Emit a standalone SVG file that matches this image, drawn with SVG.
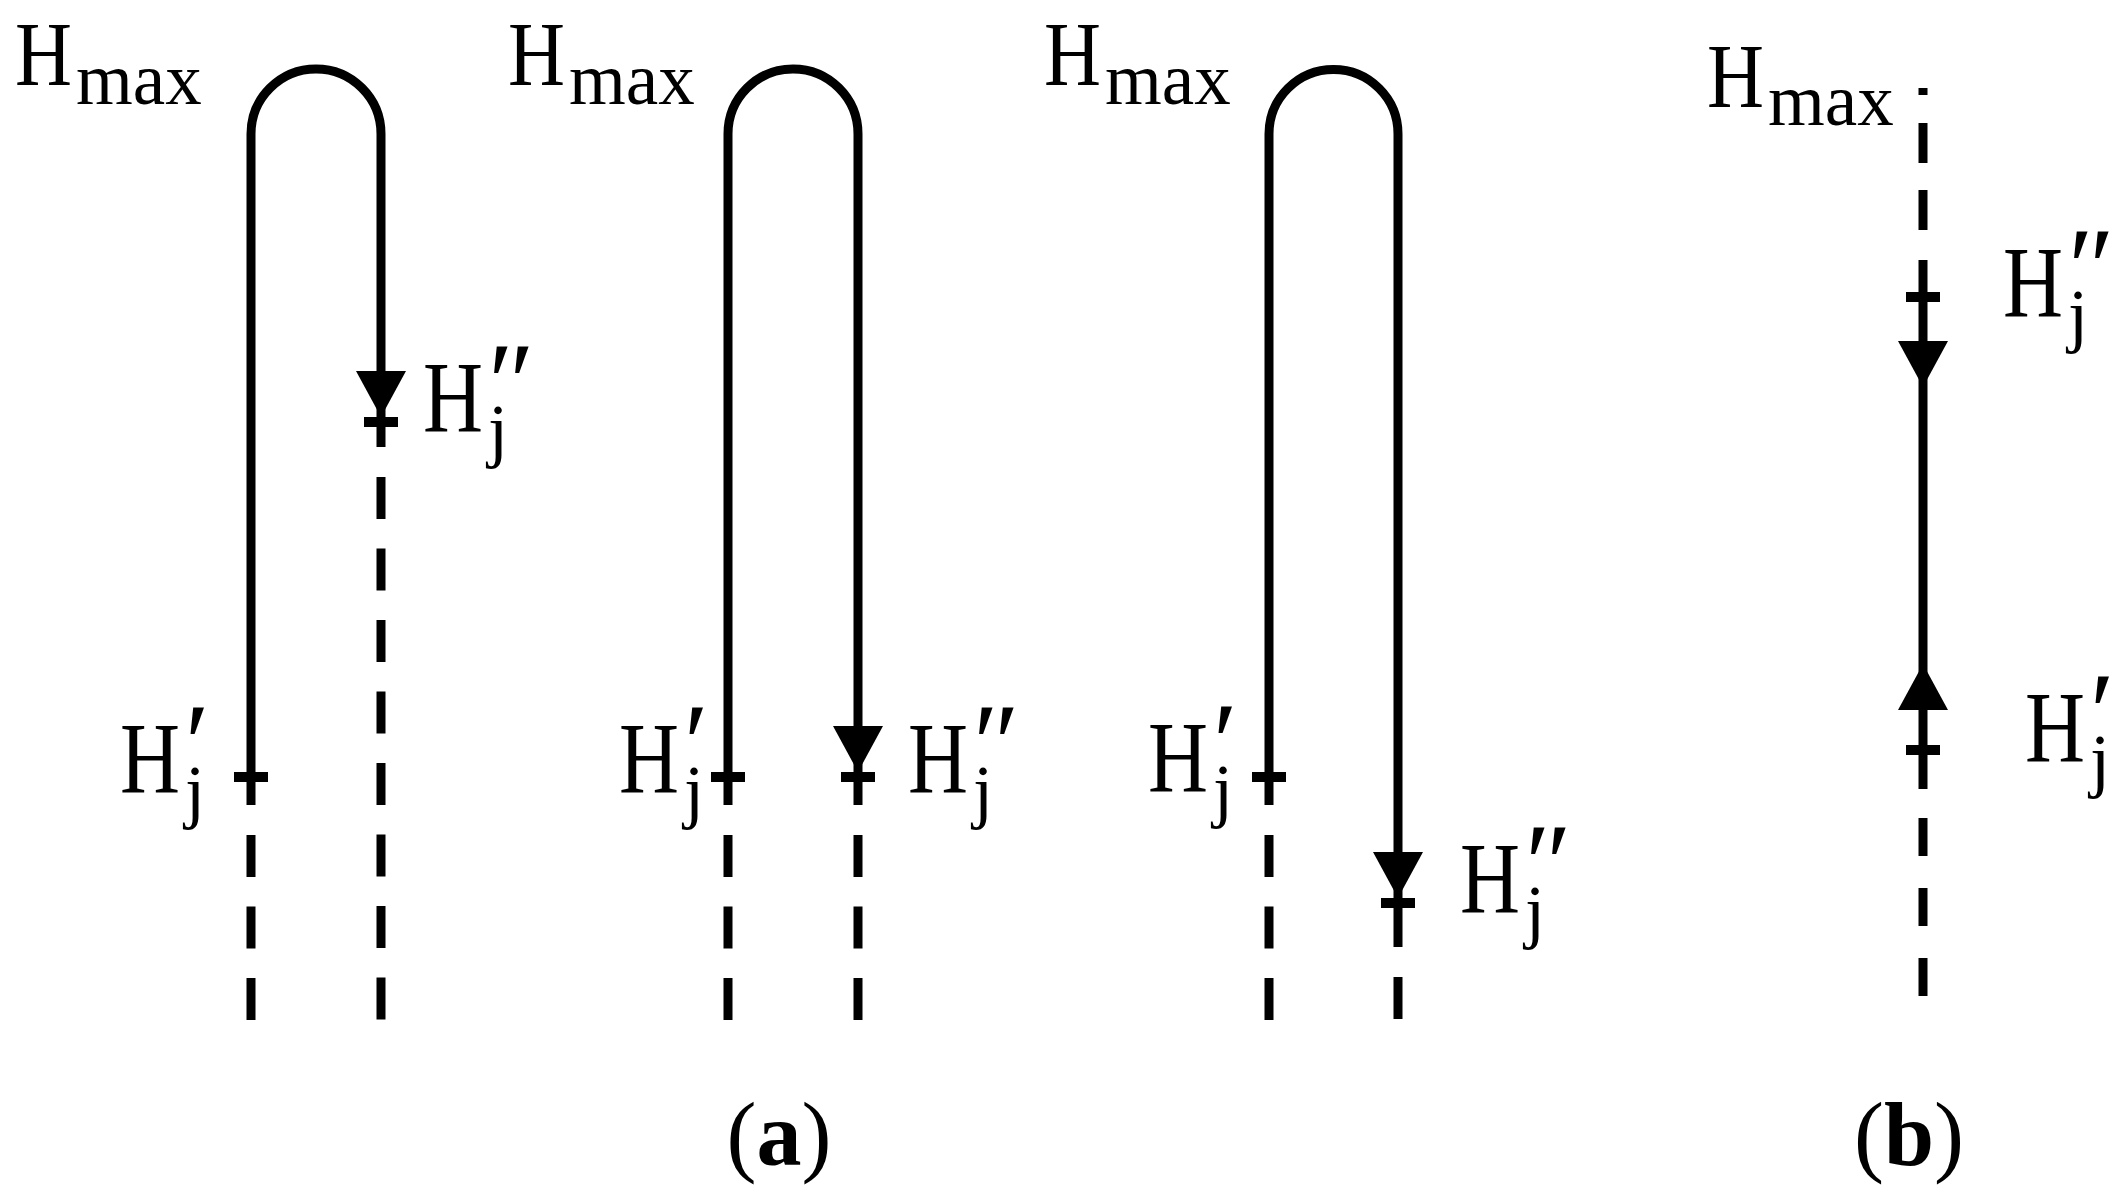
<svg xmlns="http://www.w3.org/2000/svg" xmlns:xlink="http://www.w3.org/1999/xlink" width="2123" height="1195" viewBox="0 0 2123 1195">
<style>
.s{fill:none;stroke:#000;stroke-width:9}
.d{stroke-dasharray:42 29.5}
.t{font-family:"Liberation Serif","Times New Roman",serif;fill:#000}
.H{font-size:102px}
.Hm{font-size:92px}
.sub{font-size:72px}
.mx{font-size:73px}
.pr{font-size:112px}
.cap{font-size:90px}
</style>
<defs>
<path id="ad" d="M-25,-46 L25,-46 L0,0 Z" fill="#000"/>
<rect id="tk" x="-17" y="-5" width="34" height="10" fill="#000"/>
</defs>
<rect width="2123" height="1195" fill="#fff"/>
<g id="connectors">
<!-- panel a1 -->
<path class="s" d="M251,805 V134 A65,65 0 0 1 381,134 V447"/>
<path class="s d" d="M381,477 V1020"/>
<path class="s d" d="M251,835 V1020"/>
<use xlink:href="#ad" href="#ad" x="381" y="417"/>
<use xlink:href="#tk" href="#tk" x="381" y="422"/>
<use xlink:href="#tk" href="#tk" x="251" y="777"/>
<!-- panel a2 -->
<path class="s" d="M728,805 V134 A65,65 0 0 1 858,134 V805"/>
<path class="s d" d="M728,835 V1020"/>
<path class="s d" d="M858,835 V1020"/>
<use xlink:href="#ad" href="#ad" x="858" y="772"/>
<use xlink:href="#tk" href="#tk" x="728" y="777"/>
<use xlink:href="#tk" href="#tk" x="858" y="777"/>
<!-- panel a3 -->
<path class="s" d="M1269,805 V134 A64.5,64.5 0 0 1 1398,134 V947"/>
<path class="s d" d="M1269,835 V1020"/>
<path class="s d" d="M1398,977 V1019"/>
<use xlink:href="#ad" href="#ad" x="1398" y="898"/>
<use xlink:href="#tk" href="#tk" x="1269" y="777"/>
<use xlink:href="#tk" href="#tk" x="1398" y="903"/>
<!-- panel b -->
<path class="s" d="M1923,88 V95 M1923,123 V163 M1923,190 V230"/>
<path class="s" d="M1923,260 V789"/>
<path class="s" style="stroke-dasharray:38 32" d="M1923,818 V996"/>
<use xlink:href="#ad" href="#ad" x="1923" y="387"/>
<use xlink:href="#ad" href="#ad" transform="translate(1923,664) rotate(180)"/>
<use xlink:href="#tk" href="#tk" x="1923" y="297"/>
<use xlink:href="#tk" href="#tk" x="1923" y="750"/>
</g>

<g id="hmax-a1"><text class="t"><tspan class="Hm" x="15" y="85" textLength="57" lengthAdjust="spacingAndGlyphs">H</tspan><tspan class="mx" x="76" y="104">max</tspan></text></g>
<g id="hmax-a2"><text class="t"><tspan class="Hm" x="508" y="85" textLength="57" lengthAdjust="spacingAndGlyphs">H</tspan><tspan class="mx" x="569" y="104">max</tspan></text></g>
<g id="hmax-a3"><text class="t"><tspan class="Hm" x="1044" y="85" textLength="57" lengthAdjust="spacingAndGlyphs">H</tspan><tspan class="mx" x="1105" y="104">max</tspan></text></g>
<g id="hmax-b"><text class="t"><tspan class="Hm" x="1707" y="107" textLength="57" lengthAdjust="spacingAndGlyphs">H</tspan><tspan class="mx" x="1768" y="125">max</tspan></text></g>

<g id="hjpp-a1" transform="translate(425,432)"><text class="t"><tspan class="H" x="-2" y="0" textLength="60" lengthAdjust="spacingAndGlyphs">H</tspan><tspan class="sub" x="63" y="22">j</tspan><tspan class="pr" x="63" y="-12">″</tspan></text></g>
<g id="hjp-a1" transform="translate(122,793)"><text class="t"><tspan class="H" x="-2" y="0" textLength="60" lengthAdjust="spacingAndGlyphs">H</tspan><tspan class="sub" x="63" y="22">j</tspan><tspan class="pr" x="63" y="-12">′</tspan></text></g>
<g id="hjp-a2" transform="translate(621,793)"><text class="t"><tspan class="H" x="-2" y="0" textLength="60" lengthAdjust="spacingAndGlyphs">H</tspan><tspan class="sub" x="63" y="22">j</tspan><tspan class="pr" x="63" y="-12">′</tspan></text></g>
<g id="hjpp-a2" transform="translate(910,793)"><text class="t"><tspan class="H" x="-2" y="0" textLength="60" lengthAdjust="spacingAndGlyphs">H</tspan><tspan class="sub" x="63" y="22">j</tspan><tspan class="pr" x="63" y="-12">″</tspan></text></g>
<g id="hjp-a3" transform="translate(1150,792)"><text class="t"><tspan class="H" x="-2" y="0" textLength="60" lengthAdjust="spacingAndGlyphs">H</tspan><tspan class="sub" x="63" y="22">j</tspan><tspan class="pr" x="63" y="-12">′</tspan></text></g>
<g id="hjpp-a3" transform="translate(1462,913)"><text class="t"><tspan class="H" x="-2" y="0" textLength="60" lengthAdjust="spacingAndGlyphs">H</tspan><tspan class="sub" x="63" y="22">j</tspan><tspan class="pr" x="63" y="-12">″</tspan></text></g>
<g id="hjpp-b" transform="translate(2005,317)"><text class="t"><tspan class="H" x="-2" y="0" textLength="60" lengthAdjust="spacingAndGlyphs">H</tspan><tspan class="sub" x="63" y="22">j</tspan><tspan class="pr" x="63" y="-12">″</tspan></text></g>
<g id="hjp-b" transform="translate(2027,762)"><text class="t"><tspan class="H" x="-2" y="0" textLength="60" lengthAdjust="spacingAndGlyphs">H</tspan><tspan class="sub" x="63" y="22">j</tspan><tspan class="pr" x="63" y="-12">′</tspan></text></g>

<g id="caption-a"><text class="t cap" x="779" y="1165" text-anchor="middle">(<tspan font-weight="bold">a</tspan>)</text></g>
<g id="caption-b"><text class="t cap" x="1909" y="1165" text-anchor="middle">(<tspan font-weight="bold">b</tspan>)</text></g>
</svg>
